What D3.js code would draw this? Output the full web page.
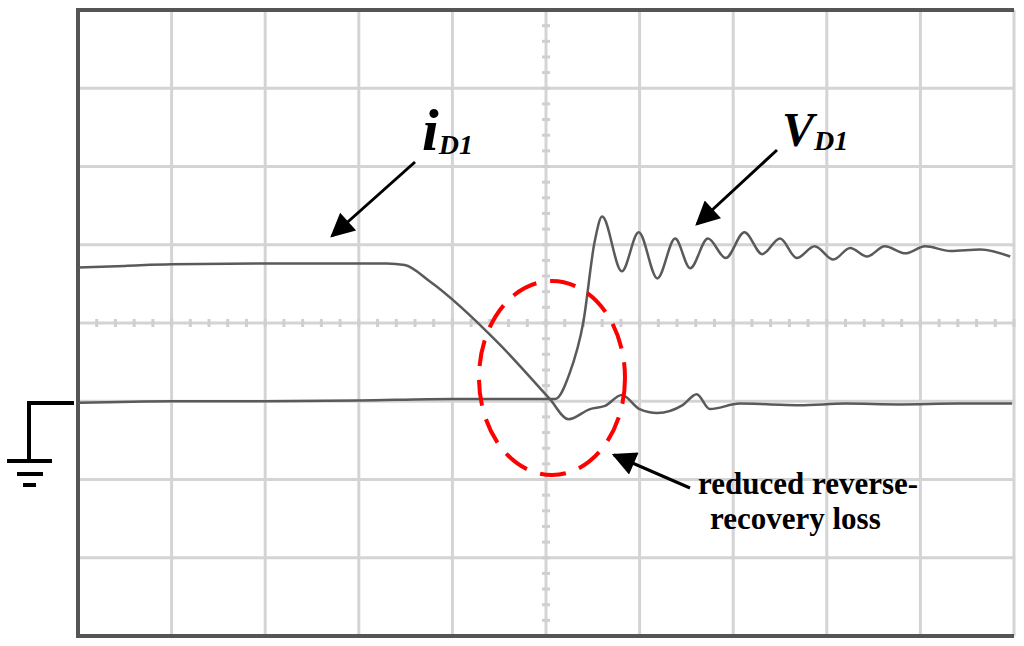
<!DOCTYPE html>
<html><head><meta charset="utf-8">
<script src="https://cdn.jsdelivr.net/npm/d3@7"></script>
<style>body{margin:0;background:#fff}</style>
</head><body>
<svg id="chart" width="1024" height="646"></svg>
<script>
// time in divisions, value in divisions above ground
var iD1 = [[0,1.71],[0.5,1.73],[1,1.75],[2,1.76],[3,1.76],[3.3,1.76],[3.49,1.74],[3.76,1.53],[4.51,0.72],[5.04,0.03],
  [5.24,-0.23],[5.47,-0.10],[5.63,-0.06],[5.81,0.08],[6.0,-0.10],[6.19,-0.15],[6.46,-0.05],[6.61,0.09],[6.75,-0.10],
  [7.07,-0.03],[7.4,-0.04],[7.71,-0.05],[8.2,-0.03],[8.78,-0.04],[9.4,-0.03],[9.98,-0.03]];
var vD1 = [[0,-0.02],[1,0],[2,0.0],[3,0.01],[4,0.03],[5.0,0.03],[5.1,0.03],[5.25,0.35],[5.40,1.02],[5.52,2.04],[5.60,2.36],
  [5.81,1.66],[5.99,2.16],[6.19,1.57],[6.38,2.08],[6.54,1.70],[6.73,2.08],[6.92,1.83],[7.12,2.16],[7.31,1.88],
  [7.50,2.08],[7.68,1.83],[7.87,1.98],[8.07,1.81],[8.25,1.96],[8.43,1.85],[8.62,1.98],[8.84,1.89],[9.05,1.98],
  [9.32,1.92],[9.64,1.94],[9.96,1.85]];
var xDivs = d3.range(0, 11);
var yDivs = d3.range(-3, 6);

var svg = d3.select('#chart');
var x = d3.scaleLinear().domain([0, 10]).range([78, 1014]);
var y = d3.scaleLinear().domain([-3, 5]).range([636, 10]);

// grid
svg.selectAll('.vg').data(xDivs).enter().append('line')
  .attr('x1', d => x(d)).attr('x2', d => x(d)).attr('y1', y(5)).attr('y2', y(-3))
  .style('stroke', '#d4d4d4').style('stroke-width', 3);
svg.selectAll('.hg').data(yDivs).enter().append('line')
  .attr('y1', d => y(d)).attr('y2', d => y(d)).attr('x1', x(0)).attr('x2', x(10))
  .style('stroke', '#d4d4d4').style('stroke-width', 3);

// centre axes with minor ticks
var minor = d3.range(0, 50.01, 1).map(d => d / 5);
svg.selectAll('.mx').data(minor).enter().append('line')
  .attr('x1', d => x(d)).attr('x2', d => x(d)).attr('y1', y(1) - 4).attr('y2', y(1) + 4)
  .style('stroke', '#cfcfcf').style('stroke-width', 3);
var minorY = d3.range(-15, 25.01, 1).map(d => d / 5);
svg.selectAll('.my').data(minorY).enter().append('line')
  .attr('y1', d => y(d)).attr('y2', d => y(d)).attr('x1', x(5) - 4).attr('x2', x(5) + 4)
  .style('stroke', '#cfcfcf').style('stroke-width', 3);

// frame
svg.append('path').attr('d', 'M' + x(10) + ',' + y(5) + 'H' + x(0) + 'V' + y(-3) + 'H' + x(10))
  .style('fill', 'none').style('stroke', '#555').style('stroke-width', 4);

// traces
var line = d3.line().x(d => x(d[0])).y(d => y(d[1])).curve(d3.curveMonotoneX);
[iD1, vD1].forEach(function (s) {
  svg.append('path').attr('d', line(s)).style('fill', 'none')
    .style('stroke', '#5a5a5a').style('stroke-width', 2.5);
});

// ground symbol
svg.append('path').attr('d', 'M74,403H29V461M7,461H52M17,474H43M23,485H36')
  .style('fill', 'none').style('stroke', '#000').style('stroke-width', 4);

// arrows
svg.append('defs').append('marker').attr('id', 'ah').attr('viewBox', '0 0 10 10')
  .attr('refX', 9).attr('refY', 5)
  .attr('markerUnits', 'userSpaceOnUse').attr('orient', 'auto')
  .attr('markerWidth', 34).attr('markerHeight', 24)
  .append('path').attr('d', 'M0,0L10,5L0,10z').style('fill', '#000');
function arrow(x1, y1, x2, y2) {
  svg.append('line').attr('x1', x1).attr('y1', y1).attr('x2', x2).attr('y2', y2)
    .style('stroke', '#000').style('stroke-width', 3).attr('marker-end', 'url(#ah)');
}
arrow(415, 162, 332, 236);
arrow(777, 150, 697, 224);
arrow(690, 488, 614, 455);

// ellipse
svg.append('ellipse').attr('cx', 552).attr('cy', 378).attr('rx', 73).attr('ry', 97)
  .style('fill', 'none').style('stroke', '#f00').style('stroke-width', 4)
  .style('stroke-dasharray', '26,14');

// labels
var ff = '"Liberation Serif", "Times New Roman", serif';
var t1 = svg.append('text').attr('x', 422).attr('y', 150).style('font-family', ff)
  .style('font-weight', 'bold').style('font-style', 'italic');
t1.append('tspan').text('i').style('font-size', '60px');
t1.append('tspan').text('D1').style('font-size', '28px').attr('dy', 4);
var t2 = svg.append('text').attr('x', 782).attr('y', 146).style('font-family', ff)
  .style('font-weight', 'bold').style('font-style', 'italic');
t2.append('tspan').text('V').style('font-size', '48px');
t2.append('tspan').text('D1').style('font-size', '28px').attr('dy', 4);
svg.append('text').attr('x', 698).attr('y', 494).text('reduced reverse-')
  .style('font-family', ff).style('font-weight', 'bold').style('font-size', '31px');
svg.append('text').attr('x', 710).attr('y', 529).text('recovery loss')
  .style('font-family', ff).style('font-weight', 'bold').style('font-size', '31px');
</script>
</body></html>
